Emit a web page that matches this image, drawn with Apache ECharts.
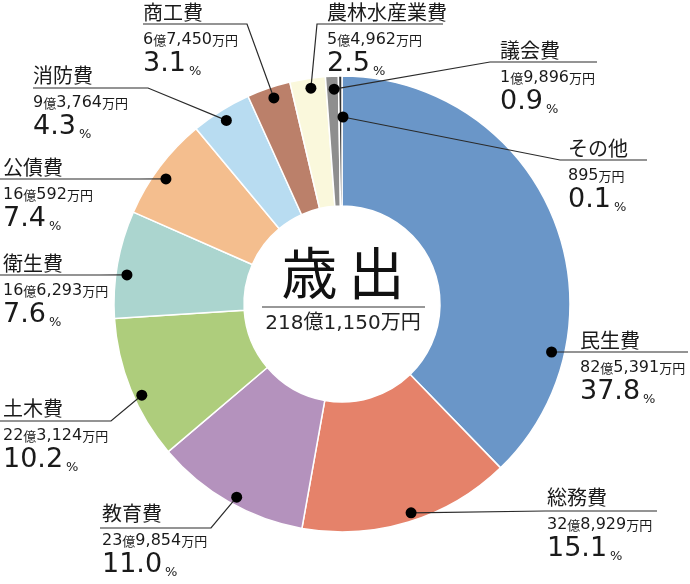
<!DOCTYPE html>
<html><head><meta charset="utf-8">
<script src="https://cdn.jsdelivr.net/npm/echarts@6/dist/echarts.min.js"></script>
<style>html,body{margin:0;padding:0;background:#fff}#c{width:690px;height:584px}</style>
</head><body><div id="c"></div>
<script>
// ---- data ----
const categories = ['民生費','総務費','教育費','土木費','衛生費','公債費','消防費','商工費','農林水産業費','議会費','その他'];
const amounts = [825391, 328929, 239854, 223124, 166293, 160592, 93764, 67450, 54962, 19896, 895]; // 万円
const percentLabels = ['37.8','15.1','11.0','10.2','7.6','7.4','4.3','3.1','2.5','0.9','0.1'];
const centerTitle = '歳\u2009出';

// ---- style / layout ----
const colors = ['#6a96c8','#e5826a','#b492bd','#aecd7c','#abd5cf','#f4be8e','#b8dcf1','#bb806a','#faf8dc','#8e8e8e','#333333'];
const CX = 342, CY = 304, R0 = 98, R1 = 228;
// annotation dot: [angle clockwise from 12 o'clock (deg), radius px]
const dotPolar = [[102.9,215],[161.7,220],[208.6,220],[245.5,220],[277.7,217],[305.4,216],[327.8,217],[341.7,217],[351.8,218],[357.9,215],[0.3,187]];
// label left x, name-line centre y
const labelAt = [[580,340],[547,497],[102,513],[3,408],[3,263],[3,167],[33,75],[143,12],[327,12],[500,50],[568,148]];
const lineBend = [[560,352],[545,511],[211,528],[111,421],[100,275],[140,179],[148,88],[247,24],[317,24],[490,62],[560,160]];
const lineEnd  = [[688,352],[657,511],[100,528],[0,421],[0,275],[0,179],[33,88],[143,24],[443,24],[597,62],[647,160]];

const NUM = '"DejaVu Sans", "Noto Sans CJK JP", sans-serif';
const CJK = '"Noto Sans CJK JP", sans-serif';

function dotXY(i){
  const a = dotPolar[i][0] * Math.PI / 180, r = dotPolar[i][1];
  return [CX + r * Math.sin(a), CY - r * Math.cos(a)];
}
function fmtAmount(v){
  const oku = Math.floor(v / 10000), man = v % 10000;
  const manStr = man.toLocaleString('en-US');
  let s = '';
  if (oku > 0) s += '{num|' + oku + '}{unit|億}';
  s += '{num|' + manStr + '}{unit|万円}';
  return s;
}
const total = amounts.reduce((a, b) => a + b, 0);
const totalStr = Math.floor(total / 10000) + '億' + (total % 10000).toLocaleString('en-US') + '万円';

const chart = echarts.init(document.getElementById('c'), null, {renderer: 'canvas'});

const graphics = [];
categories.forEach((c, i) => {
  const p = dotXY(i);
  graphics.push({type: 'polyline', z: 99, shape: {points: [p, lineBend[i], lineEnd[i]]}, style: {stroke: '#2a2a2a', lineWidth: 1.2, fill: null}});
  graphics.push({type: 'circle', z: 100, shape: {cx: p[0], cy: p[1], r: 5.5}, style: {fill: '#000'}});
});
graphics.push({type: 'text', z: 100, style: {text: centerTitle, x: CX + 1, y: 273, align: 'center', verticalAlign: 'middle', font: '400 56px "Noto Sans CJK JP", sans-serif', fill: '#111'}});
graphics.push({type: 'line', z: 100, shape: {x1: 262, y1: 307, x2: 425, y2: 307}, style: {stroke: '#333', lineWidth: 1.2}});
graphics.push({type: 'text', z: 100, style: {text: totalStr, x: CX + 1, y: 324, align: 'center', verticalAlign: 'middle', font: '400 20px "DejaVu Sans", "Noto Sans CJK JP", sans-serif', fill: '#222'}});

chart.setOption({
  animation: false,
  backgroundColor: '#fff',
  color: colors,
  graphic: graphics,
  series: [{
    type: 'pie',
    center: [CX, CY],
    radius: [R0, R1],
    startAngle: 90,
    clockwise: true,
    minAngle: 0.9,
    avoidLabelOverlap: false,
    emphasis: {disabled: true},
    itemStyle: {borderColor: '#fff', borderWidth: 1.5},
    data: categories.map((c, i) => ({name: c, value: amounts[i]})),
    label: {
      show: true,
      position: 'outside',
      formatter: p => '{name|' + p.name + '}\n' + fmtAmount(amounts[p.dataIndex]) + '\n{pct|' + percentLabels[p.dataIndex] + '}{ps|%}',
      rich: {
        name: {fontSize: 20, fontFamily: CJK, lineHeight: 36, color: '#1a1a1a'},
        num: {fontSize: 16, fontFamily: NUM, lineHeight: 20, color: '#1a1a1a'},
        unit: {fontSize: 13, fontFamily: CJK, lineHeight: 20, color: '#1a1a1a'},
        pct: {fontSize: 27, fontFamily: NUM, lineHeight: 28, color: '#1a1a1a'},
        ps: {fontSize: 13, fontFamily: NUM, lineHeight: 16, verticalAlign: 'bottom', padding: [0, 0, 0, 3], color: '#1a1a1a'}
      }
    },
    labelLine: {show: false},
    labelLayout: function (params) {
      const i = params.dataIndex;
      return {
        x: labelAt[i][0],
        y: labelAt[i][1] - 18,
        align: 'left',
        verticalAlign: 'top'
      };
    }
  }]
});
</script>
</body></html>
